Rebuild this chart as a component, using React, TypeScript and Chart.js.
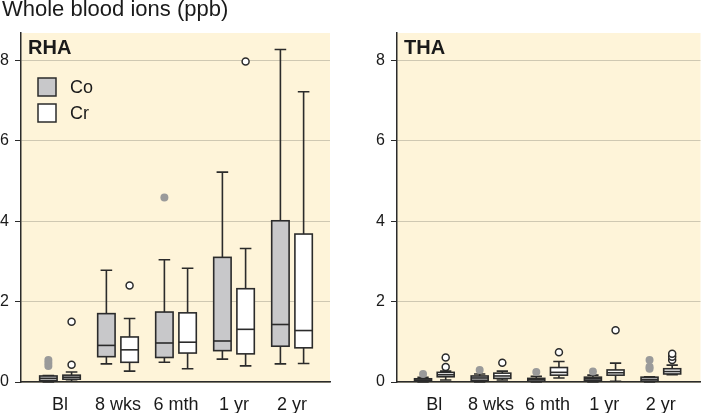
import React, { useEffect, useRef } from "react";
import { Chart, registerables } from "chart.js";

Chart.register(...registerables);

// ---------- data ----------
const categories = ["Bl", "8 wks", "6 mth", "1 yr", "2 yr"];
const yTicks = [0, 2, 4, 6, 8];
const seriesNames = ["Co", "Cr"];

// each box: [lowWhisker, q1, median, q3, highWhisker]
const rhaCo = [
  [0.0, 0.03, 0.09, 0.15, 0.16],
  [0.45, 0.63, 0.91, 1.7, 2.78],
  [0.49, 0.61, 0.97, 1.74, 3.04],
  [0.57, 0.78, 1.02, 3.1, 5.22],
  [0.45, 0.89, 1.43, 4.01, 8.27],
];
const rhaCr = [
  [0.02, 0.07, 0.12, 0.17, 0.25],
  [0.27, 0.49, 0.8, 1.12, 1.58],
  [0.33, 0.72, 0.99, 1.72, 2.83],
  [0.4, 0.7, 1.31, 2.32, 3.32],
  [0.46, 0.85, 1.28, 3.68, 7.22],
];
const rhaCoOutliers = [[0.4, 0.47, 0.55], [], [4.59], [], []];
const rhaCrOutliers = [[0.43, 1.5], [2.4], [], [7.97], []];

const thaCo = [
  [0.0, 0.03, 0.05, 0.08, 0.12],
  [0.0, 0.04, 0.1, 0.15, 0.2],
  [0.0, 0.02, 0.06, 0.09, 0.14],
  [0.0, 0.04, 0.08, 0.12, 0.17],
  [0.0, 0.02, 0.06, 0.12, 0.13],
];
const thaCr = [
  [0.05, 0.13, 0.18, 0.24, 0.27],
  [0.05, 0.09, 0.15, 0.22, 0.27],
  [0.1, 0.17, 0.24, 0.36, 0.51],
  [0.02, 0.17, 0.23, 0.3, 0.47],
  [0.18, 0.2, 0.26, 0.33, 0.42],
];
const thaCoOutliers = [[0.2], [0.3], [0.25], [0.26], [0.33, 0.38, 0.55]];
const thaCrOutliers = [[0.37, 0.61], [0.48], [0.74], [1.29], [0.55, 0.63, 0.7]];

// ---------- styling ----------
const BG = "#fef4d9";
const GRID = "#cfc8b2";
const INK = "#2b2b2b";
const CO_FILL = "#c8c8ca";
const CR_FILL = "#ffffff";
const CO_DOT = "#9a9a9a";
const FONT = "'Liberation Sans', Arial, Helvetica, sans-serif";
const OFFSET = 0.2;
const BOX_W = 0.3;
const CAP_W = 0.2;

type PanelProps = {
  label: string;
  co: number[][];
  cr: number[][];
  coOut: number[][];
  crOut: number[][];
  legend: boolean;
  yAxisWidth: number;
  xMin: number;
  xMax: number;
  padRight: number;
};

function Panel(p: PanelProps & { style: React.CSSProperties; width: number }) {
  const ref = useRef<HTMLCanvasElement | null>(null);
  useEffect(() => {
    if (!ref.current) return;
    const boxPlugin = {
      id: "boxes",
      beforeDraw(chart: any) {
        const { ctx, chartArea } = chart;
        ctx.save();
        ctx.fillStyle = BG;
        ctx.fillRect(chartArea.left, chartArea.top, chartArea.right - chartArea.left, chartArea.bottom - chartArea.top);
        ctx.restore();
      },
      beforeDatasetsDraw(chart: any) {
        const { ctx, scales, chartArea } = chart;
        const xs = scales.x;
        const ys = scales.y;
        const drawSet = (set: number[][], off: number, fill: string) => {
          set.forEach((b, i) => {
            const [lo, q1, med, q3, hi] = b;
            const cx = xs.getPixelForValue(i + off);
            const half = xs.getPixelForValue(i + off + BOX_W / 2) - cx;
            const cap = xs.getPixelForValue(i + off + CAP_W / 2) - cx;
            const yLo = ys.getPixelForValue(lo);
            const yQ1 = ys.getPixelForValue(q1);
            const yMed = ys.getPixelForValue(med);
            const yQ3 = ys.getPixelForValue(q3);
            const yHi = ys.getPixelForValue(hi);
            ctx.save();
            ctx.strokeStyle = INK;
            ctx.lineWidth = 1.6;
            ctx.beginPath();
            ctx.moveTo(cx, yQ3);
            ctx.lineTo(cx, yHi);
            ctx.moveTo(cx - cap, yHi);
            ctx.lineTo(cx + cap, yHi);
            ctx.moveTo(cx, yQ1);
            ctx.lineTo(cx, yLo);
            ctx.moveTo(cx - cap, yLo);
            ctx.lineTo(cx + cap, yLo);
            ctx.stroke();
            ctx.fillStyle = fill;
            ctx.fillRect(cx - half, yQ3, half * 2, yQ1 - yQ3);
            ctx.strokeRect(cx - half, yQ3, half * 2, yQ1 - yQ3);
            ctx.beginPath();
            ctx.moveTo(cx - half, yMed);
            ctx.lineTo(cx + half, yMed);
            ctx.stroke();
            ctx.restore();
          });
        };
        drawSet(p.co, -OFFSET, CO_FILL);
        drawSet(p.cr, OFFSET, CR_FILL);

        ctx.save();
        ctx.fillStyle = "#1a1a1a";
        ctx.font = `bold 20px ${FONT}`;
        ctx.textBaseline = "alphabetic";
        ctx.textAlign = "left";
        ctx.fillText(p.label, chartArea.left + 7, chartArea.top + 21);
        if (p.legend) {
          ctx.font = `18px ${FONT}`;
          const items = [
            { name: seriesNames[0], fill: CO_FILL, y: 78 },
            { name: seriesNames[1], fill: CR_FILL, y: 104 },
          ];
          items.forEach((it) => {
            ctx.fillStyle = it.fill;
            ctx.strokeStyle = INK;
            ctx.lineWidth = 1.5;
            ctx.fillRect(38, it.y, 18, 18);
            ctx.strokeRect(38, it.y, 18, 18);
            ctx.fillStyle = "#1a1a1a";
            ctx.textBaseline = "middle";
            ctx.fillText(it.name, 70, it.y + 10);
          });
        }
        ctx.restore();
      },
    };

    const toPts = (arr: number[][], off: number) =>
      arr.flatMap((vals, i) => vals.map((v) => ({ x: i + off, y: v })));

    const chart = new Chart(ref.current, {
      type: "scatter",
      data: {
        datasets: [
          {
            label: "Co outliers",
            data: toPts(p.coOut, -OFFSET),
            pointRadius: 4,
            pointBackgroundColor: CO_DOT,
            pointBorderColor: CO_DOT,
            pointBorderWidth: 0,
          },
          {
            label: "Cr outliers",
            data: toPts(p.crOut, OFFSET),
            pointRadius: 3.5,
            pointBackgroundColor: "#ffffff",
            pointBorderColor: INK,
            pointBorderWidth: 1.5,
          },
        ],
      },
      options: {
        animation: false,
        responsive: false,
        maintainAspectRatio: false,
        layout: { padding: { top: 33, right: p.padRight, left: 0, bottom: 0 } },
        plugins: { legend: { display: false }, tooltip: { enabled: false } },
        scales: {
          x: {
            type: "linear",
            min: p.xMin,
            max: p.xMax,
            afterBuildTicks: (s: any) => {
              s.ticks = categories.map((_, i) => ({ value: i }));
            },
            afterFit: (s: any) => {
              s.height = 31;
            },
            grid: { display: false, drawTicks: false },
            border: { display: true, color: INK, width: 1.5 },
            ticks: {
              callback: (v: any) => categories[v as number] ?? "",
              color: "#1a1a1a",
              font: { size: 18, family: FONT },
              padding: 12,
              maxRotation: 0,
              autoSkip: false,
            },
          },
          y: {
            min: 0,
            max: 8.68,
            afterBuildTicks: (s: any) => {
              s.ticks = yTicks.map((v) => ({ value: v }));
            },
            afterFit: (s: any) => {
              s.width = p.yAxisWidth;
            },
            grid: { color: GRID, lineWidth: 1, tickColor: INK, tickLength: 6 },
            border: { display: true, color: INK, width: 1.5 },
            ticks: {
              color: "#1a1a1a",
              font: { size: 16, family: FONT },
              padding: 6,
            },
          },
        },
      },
      plugins: [boxPlugin],
    });
    return () => chart.destroy();
  }, []);
  return (
    <canvas
      ref={ref}
      width={p.width}
      height={413}
      style={{ ...p.style, width: p.width, height: 413, position: "absolute", top: 0 }}
    />
  );
}

export default function App() {
  return (
    <div style={{ position: "fixed", left: 0, top: 0, width: 706, height: 413, background: "#fff", overflow: "hidden" }}>
      <Panel
        label="RHA"
        co={rhaCo}
        cr={rhaCr}
        coOut={rhaCoOutliers}
        crOut={rhaCrOutliers}
        legend={true}
        yAxisWidth={21}
        xMin={-0.672}
        xMax={4.655}
        padRight={10}
        width={340}
        style={{ left: 0 }}
      />
      <Panel
        label="THA"
        co={thaCo}
        cr={thaCr}
        coOut={thaCoOutliers}
        crOut={thaCrOutliers}
        legend={false}
        yAxisWidth={47}
        xMin={-0.66}
        xMax={4.7}
        padRight={0}
        width={356}
        style={{ left: 350 }}
      />
      <div
        style={{
          position: "absolute",
          left: 2,
          top: -4,
          fontFamily: FONT,
          fontSize: 22,
          lineHeight: "25px",
          color: "#1a1a1a",
          whiteSpace: "nowrap",
        }}
      >
        Whole blood ions (ppb)
      </div>
    </div>
  );
}
